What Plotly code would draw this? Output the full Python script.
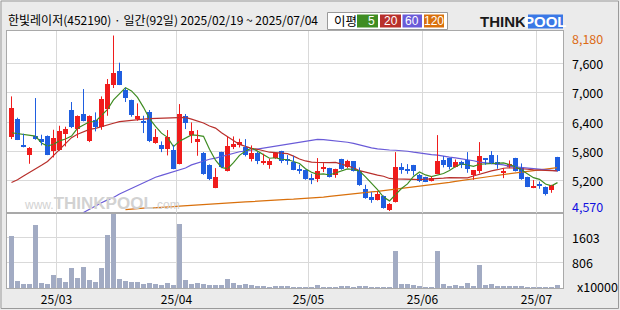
import plotly.graph_objects as go

# ---------------- data ----------------
opens = [6098, 6462, 5930, 5727, 6112, 6050, 6112, 5810, 5830, 6153,
         6647, 6256, 6565, 6002, 6434, 6297, 6667, 7169, 7457, 7066,
         6853, 6469, 6400, 6606, 5968, 5926, 5851, 5823, 5542, 6517,
         6125, 5995, 5762, 5522, 5048, 5782, 5398, 5885, 5933, 5892,
         5638, 5755, 5563, 5508, 5659, 5803, 5638, 5577, 5439, 5419,
         5247, 5233, 5453, 5453, 5316, 5638, 5467, 5590, 5398, 5021,
         4856, 4801, 4883, 4595, 4760, 5480, 5432, 5515, 5302, 5268,
         5192, 5336, 5618, 5659, 5480, 5570, 5618, 5316, 5384, 5645,
         5721, 5570, 5364, 5467, 5659, 5473, 5268, 5048, 5124, 5069,
         5007, 5679]
highs = [6928, 6490, 6160, 5885, 6894, 6140, 6125, 6242, 6324, 6304,
         6812, 6537, 7079, 6537, 6599, 6928, 7285, 8180, 7621, 7100,
         6860, 6784, 6530, 6647, 6256, 6002, 6235, 5933, 6770, 6565,
         6393, 6235, 5782, 5530, 5453, 5790, 6105, 6105, 6057, 6050,
         5920, 5789, 5748, 5645, 5782, 5810, 5721, 5707, 5522, 5425,
         5336, 5659, 5556, 5460, 5440, 5645, 5624, 5597, 5467, 5110,
         4959, 4973, 4890, 4732, 5782, 5556, 5535, 5520, 5336, 5275,
         5281, 6132, 5700, 5665, 5631, 5604, 5782, 5410, 5988, 5650,
         5803, 5721, 5453, 5611, 5665, 5549, 5275, 5206, 5178, 5075,
         5110, 5685]
lows = [6050, 6030, 5880, 5542, 6036, 5920, 5720, 5673, 5810, 5899,
        6276, 6071, 6414, 5988, 6208, 6242, 6530, 7100, 7160, 6812,
        6510, 6427, 6174, 5988, 5954, 5782, 5714, 5430, 5530, 6256,
        5968, 5707, 5316, 5206, 5040, 5453, 5384, 5844, 5878, 5693,
        5590, 5535, 5522, 5439, 5645, 5556, 5522, 5410, 5336, 5213,
        5124, 5165, 5371, 5260, 5254, 5419, 5453, 5384, 5089, 4822,
        4739, 4787, 4620, 4570, 4746, 5336, 5336, 5302, 5165, 5165,
        5178, 5330, 5467, 5426, 5467, 5453, 5357, 5213, 5343, 5522,
        5535, 5439, 5247, 5453, 5384, 5213, 5062, 5040, 5028, 4890,
        4945, 5384]
closes = [6688, 6036, 5890, 5865, 6071, 5988, 5727, 6071, 6208, 6263,
          6290, 6524, 6427, 6524, 6290, 6873, 7182, 7416, 7169, 6894,
          6537, 6524, 6390, 6002, 6091, 5851, 6091, 5439, 6565, 6380,
          6208, 6050, 5329, 5227, 5261, 5467, 5913, 5954, 5981, 5714,
          5755, 5604, 5604, 5604, 5762, 5590, 5590, 5419, 5384, 5227,
          5213, 5384, 5467, 5268, 5432, 5432, 5590, 5398, 5110, 4835,
          4787, 4925, 4630, 4719, 5473, 5419, 5398, 5398, 5178, 5172,
          5247, 5590, 5522, 5480, 5583, 5535, 5439, 5405, 5700, 5631,
          5563, 5508, 5398, 5529, 5398, 5233, 5069, 5082, 5103, 4925,
          5103, 5398]
volume = [1657, 242, 147, 147, 2029, 179, 147, 434, 338, 221,
          657, 338, 689, 274, 211, 657, 1710, 2348, 306, 242,
          211, 211, 147, 179, 147, 115, 179, 115, 2061, 274,
          147, 179, 147, 115, 115, 115, 306, 179, 115, 147,
          115, 83, 83, 40, 83, 83, 83, 40, 40, 40,
          40, 115, 40, 40, 40, 83, 83, 40, 83, 83,
          40, 40, 40, 40, 1178, 147, 147, 115, 83, 40,
          40, 1178, 147, 83, 115, 83, 179, 83, 753, 115,
          147, 83, 83, 83, 83, 83, 40, 40, 40, 40,
          40, 115]
ma5 = [6180, 6160, 6150, 6130, 6110, 5970, 5908, 5944, 6013, 6051,
       6112, 6271, 6342, 6406, 6411, 6528, 6659, 6857, 6986, 7107,
       7040, 6908, 6703, 6469, 6309, 6172, 6085, 5895, 6007, 6065,
       6137, 6128, 6106, 5839, 5615, 5467, 5439, 5564, 5715, 5806,
       5863, 5802, 5732, 5656, 5666, 5633, 5630, 5593, 5549, 5442,
       5367, 5325, 5335, 5312, 5353, 5397, 5438, 5424, 5392, 5273,
       5144, 5011, 4857, 4779, 4907, 5033, 5128, 5281, 5373, 5313,
       5279, 5317, 5342, 5402, 5484, 5542, 5512, 5488, 5532, 5542,
       5548, 5561, 5560, 5526, 5479, 5413, 5325, 5256, 5221, 5125,
       5088, 5154]
ma20 = [5158, 5213, 5290, 5360, 5430, 5510, 5590, 5710, 5840, 5960,
        6080, 6150, 6200, 6250, 6270, 6310, 6350, 6375, 6410, 6425,
        6435, 6440, 6460, 6469, 6475, 6480, 6485, 6490, 6495, 6496,
        6460, 6420, 6380, 6320, 6276, 6180, 6100, 6010, 5940, 5900,
        5860, 5840, 5812, 5780, 5770, 5758, 5750, 5700, 5640, 5600,
        5575, 5568, 5563, 5565, 5570, 5540, 5500, 5460, 5400, 5370,
        5335, 5310, 5285, 5240, 5230, 5222, 5220, 5220, 5215, 5220,
        5225, 5238, 5245, 5258, 5260, 5258, 5254, 5290, 5330, 5360,
        5395, 5420, 5450, 5460, 5455, 5440, 5430, 5415, 5410, 5400,
        5398, 5395]
ma60 = [None] * 12 + [
        4540, 4610, 4680, 4740, 4800, 4850, 4920, 4980,
        5040, 5096, 5160, 5220, 5265, 5305, 5345, 5390, 5425, 5455,
        5520, 5560, 5604, 5635, 5659, 5695, 5725, 5760, 5790, 5805,
        5825, 5845, 5865, 5895, 5910, 5920, 5947, 5968, 5995, 6010,
        6023, 6045, 6040, 6030, 6016, 6000, 5985, 5960, 5925, 5900,
        5870, 5850, 5832, 5825, 5820, 5812, 5800, 5780, 5760, 5752,
        5730, 5720, 5707, 5680, 5665, 5650, 5630, 5605, 5575, 5565,
        5545, 5535, 5520, 5490, 5478, 5465, 5455, 5445, 5428, 5410,
        5398, 5395]
ma120 = [None] * 19 + [
         4600,
         4612, 4620, 4628, 4632, 4636, 4640, 4648, 4660, 4671, 4680,
         4692, 4700, 4710, 4718, 4722, 4730, 4738, 4745, 4755, 4760,
         4765, 4775, 4782, 4790, 4801, 4806, 4810, 4815, 4820, 4825,
         4835, 4845, 4855, 4870, 4885, 4900, 4915, 4935, 4945, 4955,
         4965, 4975, 4990, 5002, 5010, 5025, 5040, 5055, 5075, 5090,
         5100, 5125, 5145, 5160, 5180, 5195, 5210, 5230, 5250, 5265,
         5285, 5305, 5320, 5340, 5360, 5375, 5395, 5405, 5415, 5425,
         5440, 5465]

month_idx = [8, 28, 50, 69, 88]
month_labels = ["25/03", "25/04", "25/05", "25/06", "25/07"]
price_grid = [5200, 5800, 6400, 7000, 7600]
price_labels = ["5,200", "5,800", "6,400", "7,000", "7,600"]
vol_grid = [806, 1603]
vol_labels = ["806", "1603"]
max_label, min_label = "8,180", "4,570"
title_text = "한빛레이저(452190) · 일간(92일) 2025/02/19 ~ 2025/07/04"
ma_names = ["5", "20", "60", "120"]

# ---------------- styles ----------------
RED = "#f01c1c"
BLUE = "#1f5ee0"
MA_COLORS = ["#3f8c22", "#b8302c", "#6a5bd8", "#d9700c"]
VOL_COLOR = "#a2abc3"
GRID = "#d9d9d9"
FRAME = "#a9a9a9"
FONT = "Noto Sans CJK KR"

L, R, T, B = 7, 57, 31, 22
W, H = 620, 310
PW, PH = W - L - R, H - T - B
SPLIT = (288 - 212.5) / PH


def xp(px):
    return (px - L) / PW


def yp(py):
    return (H - B - py) / PH


n = len(closes)
xs = list(range(n))

fig = go.Figure()

# moving averages
for vals, col in zip([ma120, ma60, ma20, ma5], MA_COLORS[::-1]):
    fig.add_trace(go.Scatter(x=xs, y=vals, mode="lines", line=dict(color=col, width=1.2),
                             xaxis="x2", yaxis="y2", hoverinfo="skip", connectgaps=False))

# candles
body_base, body_h, body_col = [], [], []
wick = {RED: ([], []), BLUE: ([], [])}
for i in range(n):
    o, h, l, c = opens[i], highs[i], lows[i], closes[i]
    col = RED if c >= o else BLUE
    lo, hi = min(o, c), max(o, c)
    if hi - lo < 22:
        mid = (hi + lo) / 2
        lo, hi = mid - 11, mid + 11
    body_base.append(lo)
    body_h.append(hi - lo)
    body_col.append(col)
    wick[col][0].extend([i, i, None])
    wick[col][1].extend([l, h, None])

for col in (RED, BLUE):
    fig.add_trace(go.Scatter(x=wick[col][0], y=wick[col][1], mode="lines",
                             line=dict(color=col, width=1), xaxis="x2", yaxis="y2",
                             hoverinfo="skip"))
fig.add_trace(go.Bar(x=xs, y=body_h, base=body_base, width=0.82,
                     marker=dict(color=body_col, line=dict(width=0)),
                     xaxis="x2", yaxis="y2"))

# volume
fig.add_trace(go.Bar(x=xs, y=volume, width=0.82, marker=dict(color=VOL_COLOR, line=dict(width=0)),
                     xaxis="x", yaxis="y"))

xrange = [(L - 11.5) / 6.0, (L - 11.5) / 6.0 + PW / 6.0]
grid_x = [i - 0.5 for i in month_idx]

common_x = dict(range=xrange, showgrid=True, gridcolor=GRID, gridwidth=1,
                tickmode="array", tickvals=grid_x, zeroline=False,
                showline=True, mirror=True, linecolor=FRAME, linewidth=1,
                fixedrange=True, automargin=False)

common_y = dict(showticklabels=False, showgrid=True, gridcolor=GRID, zeroline=False,
                showline=True, mirror=True, linecolor=FRAME, side="right",
                fixedrange=True, automargin=False, tickmode="array")

fig.update_layout(
    width=W, height=H,
    margin=dict(l=L, r=R, t=T, b=B, pad=0, autoexpand=False),
    paper_bgcolor="#ebebeb", plot_bgcolor="white",
    showlegend=False, bargap=0,
    font=dict(family=FONT, size=12, color="black"),
    xaxis=dict(**common_x, anchor="y", ticktext=month_labels, ticks="outside",
               ticklen=1, tickcolor="rgba(0,0,0,0)",
               tickfont=dict(family=FONT, size=12, color="black")),
    xaxis2=dict(**common_x, anchor="y2", matches="x", showticklabels=False, ticks=""),
    yaxis=dict(**common_y, domain=[0, SPLIT], range=[0, 2395], tickvals=vol_grid),
    yaxis2=dict(**common_y, domain=[SPLIT, 1], range=[4540, 8273], tickvals=price_grid),
)

ann = []
lab_x = xp(570)
for v, t in zip(price_grid, price_labels):
    ann.append(dict(x=lab_x, xref="paper", y=v, yref="y2", text=t, showarrow=False,
                    xanchor="left", yanchor="middle", font=dict(size=12.5, color="black")))
ann.append(dict(x=lab_x, xref="paper", y=yp(38), yref="paper", text=max_label, showarrow=False,
                xanchor="left", yanchor="middle", font=dict(size=12.5, color="#dc6a14")))
ann.append(dict(x=lab_x, xref="paper", y=yp(206.5), yref="paper", text=min_label, showarrow=False,
                xanchor="left", yanchor="middle", font=dict(size=12.5, color="#1010e0")))
for v, t in zip(vol_grid, vol_labels):
    ann.append(dict(x=lab_x, xref="paper", y=v, yref="y", text=t, showarrow=False,
                    xanchor="left", yanchor="middle", font=dict(size=12.5, color="black")))
ann.append(dict(x=xp(575), xref="paper", y=yp(286), yref="paper", text="x10000", showarrow=False,
                xanchor="left", yanchor="middle", font=dict(size=12.5, color="black")))

# title
ann.append(dict(x=xp(6), xref="paper", y=yp(20), yref="paper", text=title_text, showarrow=False,
                xanchor="left", yanchor="middle", font=dict(size=12, color="black")))

shapes = []
# outer frame
shapes.append(dict(type="rect", xref="paper", yref="paper", x0=xp(1), x1=xp(618.5),
                   y0=yp(308.5), y1=yp(1), line=dict(color="#9a9a9a", width=1), layer="below"))
# legend box
shapes.append(dict(type="rect", xref="paper", yref="paper", x0=xp(327.5), x1=xp(447.5),
                   y0=yp(29.5), y1=yp(12.5), fillcolor="white", line=dict(color="#9a9a9a", width=1)))
ann.append(dict(x=xp(345), xref="paper", y=yp(21), yref="paper", text="이평", showarrow=False,
                xanchor="center", yanchor="middle", font=dict(size=12.5, color="black")))
cells = [(357, 378), (380, 401), (402.5, 422), (424, 444)]
for (a, b), name, col in zip(cells, ma_names, MA_COLORS):
    shapes.append(dict(type="rect", xref="paper", yref="paper", x0=xp(a), x1=xp(b),
                       y0=yp(27.5), y1=yp(14.5), fillcolor=col, line=dict(width=0)))
    ann.append(dict(x=(xp(a) + xp(b)) / 2 if len(name) == 3 else xp(b - 1), xref="paper",
                    y=yp(21), yref="paper", text=name, showarrow=False,
                    xanchor="center" if len(name) == 3 else "right", yanchor="middle",
                    font=dict(family="Liberation Sans", size=12, color="white")))

# ThinkPool logo
shapes.append(dict(type="rect", xref="paper", yref="paper", x0=xp(528), x1=xp(563),
                   y0=yp(28.5), y1=yp(14.5), fillcolor="#3a78e6", line=dict(width=0)))
ann.append(dict(x=xp(528), xref="paper", y=yp(21.5), yref="paper", text="<b>THINK</b>", showarrow=False,
                xanchor="right", yanchor="middle", font=dict(family="Liberation Sans", size=15, color="#1a1a1a")))
ann.append(dict(x=xp(545.5), xref="paper", y=yp(21.5), yref="paper", text="<b>POOL</b>", showarrow=False,
                xanchor="center", yanchor="middle", font=dict(family="Liberation Sans", size=15, color="white")))

# watermark
ann.append(dict(x=xp(22), xref="paper", y=yp(203), yref="paper",
                text="www.<b><span style='font-size:17px'>THINKPOOL</span></b>.com", showarrow=False,
                xanchor="left", yanchor="middle",
                font=dict(family="Liberation Sans", size=12, color="#d2d2d2")))

fig.update_layout(annotations=ann, shapes=shapes)

fig.write_html("out.html")
